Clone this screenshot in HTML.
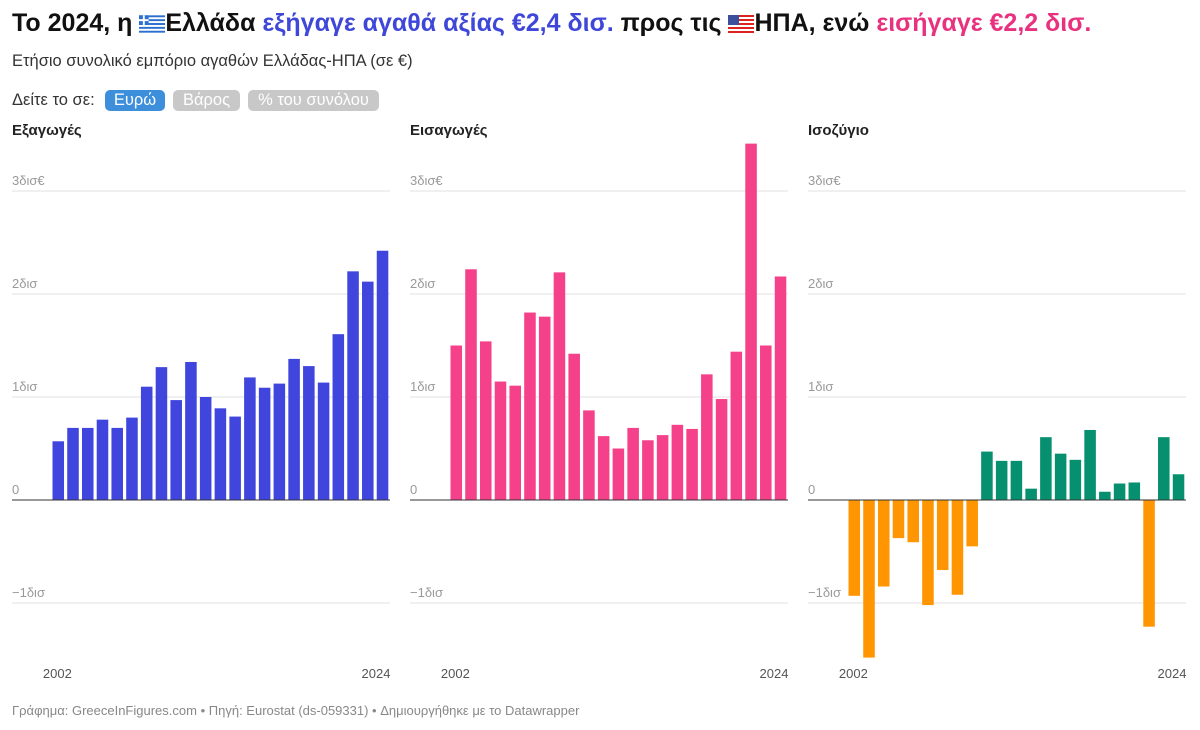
<!DOCTYPE html>
<html><head><meta charset="utf-8">
<style>
body{margin:0;width:1200px;height:730px;background:#fff;font-family:"Liberation Sans","DejaVu Sans",sans-serif;position:relative;overflow:hidden}
.abs{position:absolute;white-space:nowrap}
.title{left:12px;top:9px;font-size:25px;font-weight:bold;color:#111}
.sub{left:12px;top:52px;font-size:16.5px;color:#333}
.see{left:12px;top:91px;font-size:16.5px;color:#333}
.btn{position:absolute;top:90px;height:21px;line-height:21px;border-radius:5px;color:#fff;font-size:16.5px;padding:0 7px;box-sizing:border-box;text-align:center}
.ptitle{top:122px;font-size:15px;font-weight:bold;color:#222}
.foot{left:12px;top:703px;font-size:13px;color:#888}
</style></head><body>
<div class="abs title">Το 2024, η <svg width="26" height="18" viewBox="0 0 27 18" style="vertical-align:-2px"><rect width="27" height="18" fill="#2b6fd1"/><g fill="#fff"><rect y="2" width="27" height="2"/><rect y="6" width="27" height="2"/><rect y="10" width="27" height="2"/><rect y="14" width="27" height="2"/></g><rect width="10" height="10" fill="#2b6fd1"/><rect x="4" width="2" height="10" fill="#fff"/><rect y="4" width="10" height="2" fill="#fff"/></svg>Ελλάδα <span style="color:#3f47d9">εξήγαγε αγαθά αξίας €2,4 δισ.</span> προς τις <svg width="26" height="18" viewBox="0 0 26 18" style="vertical-align:-2px"><rect width="26" height="18" fill="#fff"/><g fill="#d22"><rect width="26" height="2"/><rect y="4" width="26" height="2"/><rect y="8" width="26" height="2"/><rect y="12" width="26" height="2"/><rect y="16" width="26" height="2"/></g><rect width="11" height="10" fill="#3c4f9c"/></svg>ΗΠΑ, ενώ <span style="color:#e8327f">εισήγαγε €2,2 δισ.</span></div>
<div class="abs sub">Ετήσιο συνολικό εμπόριο αγαθών Ελλάδας-ΗΠΑ (σε €)</div>
<div class="abs see">Δείτε το σε:</div>
<div class="btn" style="left:105px;width:60px;background:#3d8fdc">Ευρώ</div>
<div class="btn" style="left:173px;width:67px;background:#c8c8c8">Βάρος</div>
<div class="btn" style="left:248px;width:131px;background:#c8c8c8">% του συνόλου</div>
<div class="abs ptitle" style="left:12px">Εξαγωγές</div>
<div class="abs ptitle" style="left:410px">Εισαγωγές</div>
<div class="abs ptitle" style="left:808px">Ισοζύγιο</div>
<svg id="ch" class="abs" style="left:0;top:0" width="1200" height="730"></svg>
<div class="abs foot">Γράφημα: GreeceInFigures.com • Πηγή: Eurostat (ds-059331) • Δημιουργήθηκε με το Datawrapper</div>
<script>
const years=[2002,2003,2004,2005,2006,2007,2008,2009,2010,2011,2012,2013,2014,2015,2016,2017,2018,2019,2020,2021,2022,2023,2024];
const exportsVals=[0.57,0.70,0.70,0.78,0.70,0.80,1.10,1.29,0.97,1.34,1.00,0.89,0.81,1.19,1.09,1.13,1.37,1.30,1.14,1.61,2.22,2.12,2.42];
const importsVals=[1.50,2.24,1.54,1.15,1.11,1.82,1.78,2.21,1.42,0.87,0.62,0.50,0.70,0.58,0.63,0.73,0.69,1.22,0.98,1.44,3.46,1.50,2.17];
const balanceVals=[-0.93,-1.53,-0.84,-0.37,-0.41,-1.02,-0.68,-0.92,-0.45,0.47,0.38,0.38,0.11,0.61,0.45,0.39,0.68,0.08,0.16,0.17,-1.23,0.61,0.25];
const ticks=[3,2,1,0,-1];
const tickLabels=["3δισ€","2δισ","1δισ","0","−1δισ"];
const svg=document.getElementById('ch');const NS='http://www.w3.org/2000/svg';
function y(v){return 500-v*103;}
function mk(t,a){const e=document.createElementNS(NS,t);for(const k in a)e.setAttribute(k,a[k]);svg.appendChild(e);return e;}
const panels=[{x:12,vals:exportsVals,name:'exports'},{x:410,vals:importsVals,name:'imports'},{x:808,vals:balanceVals,name:'balance'}];
panels.forEach(p=>{
 ticks.forEach((t,i)=>{
  if(t!==0){const l=mk('line',{x1:p.x,x2:p.x+378,y1:y(t),y2:y(t),stroke:'#e2e2e2'});
  
  }
  const tx=mk('text',{x:p.x,y:y(t)-6,'font-size':13,fill:'#999'});tx.textContent=tickLabels[i];
  
  
 });
 const x0=p.x+39,step=339/years.length;
 p.vals.forEach((v,i)=>{
  const col=p.name==='exports'?'#3f45dd':p.name==='imports'?'#f5408a':(v>=0?'#07906f':'#ff9500');
  const r=mk('rect',{x:x0+i*step+1.5,y:Math.min(y(v),y(0)),width:step-3.2,height:Math.abs(y(v)-y(0)),fill:col});
  
  
 });
 const b=mk('line',{x1:p.x,x2:p.x+378,y1:500,y2:500,stroke:'#333'});
 
 
 [0,years.length-1].forEach(i=>{
  const tx=mk('text',{x:i===0?x0+i*step+step/2-1:p.x+364,y:678,'font-size':13,fill:'#555','text-anchor':'middle'});tx.textContent=years[i];
  
  
 });
});
</script>
</body></html>
